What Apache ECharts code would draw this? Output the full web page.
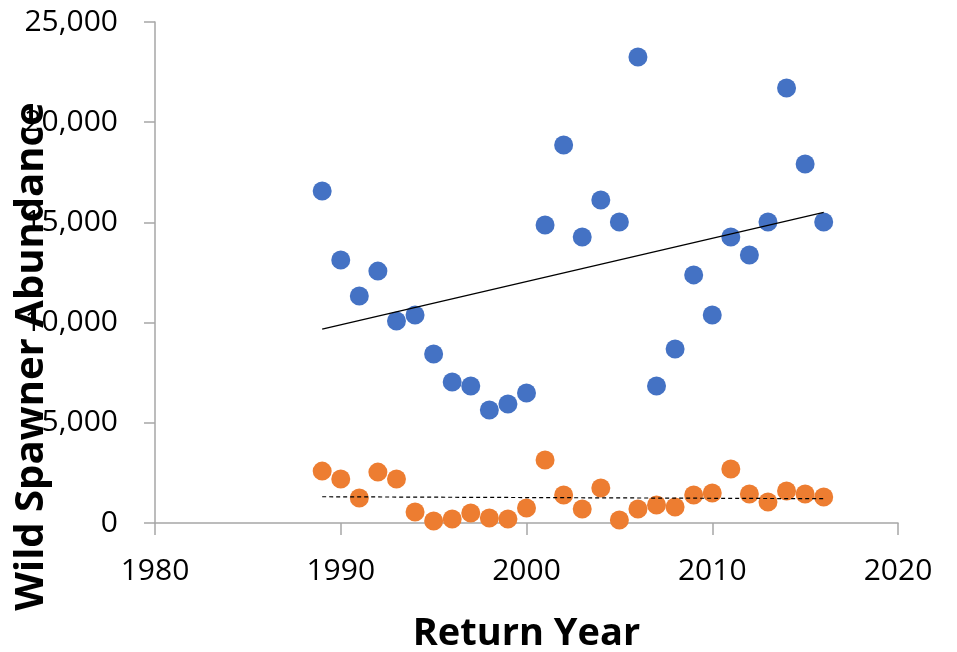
<!DOCTYPE html>
<html>
<head>
<meta charset="utf-8">
<script src="https://cdn.jsdelivr.net/npm/echarts@6/dist/echarts.min.js"></script>
<style>
html,body{margin:0;padding:0;background:#fff;}
#chart{width:957px;height:652px;}
</style>
</head>
<body>
<div id="chart"></div>
<script>
const years = [1989,1990,1991,1992,1993,1994,1995,1996,1997,1998,1999,2000,2001,2002,2003,2004,2005,2006,2007,2008,2009,2010,2011,2012,2013,2014,2015,2016];
const blueValues = [16570,13120,11330,12570,10080,10380,8430,7040,6840,5640,5940,6490,14870,18860,14270,16120,15020,23250,6840,8680,12380,10380,14270,13370,15020,21710,17910,15020];
const orangeValues = [2590,2200,1250,2540,2200,550,100,200,500,250,200,750,3140,1400,700,1750,150,700,900,800,1400,1500,2690,1450,1050,1600,1450,1300];
const xTicks = [1980,1990,2000,2010,2020];
const yTicks = [0,5000,10000,15000,20000,25000];

function linFit(xs, ys){
  const n = xs.length;
  let sx=0, sy=0, sxx=0, sxy=0;
  for(let i=0;i<n;i++){sx+=xs[i];sy+=ys[i];sxx+=xs[i]*xs[i];sxy+=xs[i]*ys[i];}
  const b = (n*sxy - sx*sy)/(n*sxx - sx*sx);
  const a = (sy - b*sx)/n;
  const x0 = xs[0], x1 = xs[n-1];
  return [[x0, a+b*x0],[x1, a+b*x1]];
}

const pts = (ys) => years.map((y,i)=>[y, ys[i]]);
const fontFam = '"Open Sans", "Liberation Sans", sans-serif';

const chart = echarts.init(document.getElementById('chart'));
chart.setOption({
  animation:false,
  backgroundColor:'#fff',
  grid:{left:155, right:59, top:22, bottom:129, containLabel:false, outerBoundsMode:'none'},
  xAxis:{
    type:'value', min:xTicks[0], max:xTicks[xTicks.length-1], interval:10,
    name:'Return Year', nameLocation:'middle', nameGap:92, nameMoveOverlap:false,
    nameTextStyle:{fontFamily:fontFam, fontSize:38, fontWeight:'bold', color:'#000'},
    axisLine:{show:true, lineStyle:{color:'#a6a6a6', width:1.5}},
    axisTick:{show:true, length:12, lineStyle:{color:'#a6a6a6', width:1.5}},
    axisLabel:{fontFamily:fontFam, fontSize:30, color:'#000', margin:33,
      formatter:(v)=>String(v)},
    splitLine:{show:false}
  },
  yAxis:{
    type:'value', min:yTicks[0], max:yTicks[yTicks.length-1], interval:5000,
    name:'Wild Spawner Abundance', nameLocation:'middle', nameGap:103, nameRotate:90, nameMoveOverlap:false,
    nameTextStyle:{fontFamily:fontFam, fontSize:40, fontWeight:'bold', color:'#000', padding:[0,168,0,0]},
    axisLine:{show:true, lineStyle:{color:'#a6a6a6', width:1.5}},
    axisTick:{show:true, length:11, lineStyle:{color:'#a6a6a6', width:1.5}},
    axisLabel:{fontFamily:fontFam, fontSize:30, color:'#000', margin:37,
      formatter:(v)=>v.toLocaleString('en-US')},
    splitLine:{show:false}
  },
  series:[
    {type:'scatter', data:pts(blueValues), symbolSize:19, itemStyle:{color:'#4472C4', opacity:1}, z:3},
    {type:'scatter', data:pts(orangeValues), symbolSize:19, itemStyle:{color:'#ED7D31', opacity:1}, z:3},
    {type:'line', data:linFit(years, blueValues), symbol:'none', lineStyle:{color:'#000', width:1.3}, z:4},
    {type:'line', data:linFit(years, orangeValues), symbol:'none', lineStyle:{color:'#000', width:1.2, type:[4,3]}, z:4}
  ]
});
</script>
</body>
</html>
